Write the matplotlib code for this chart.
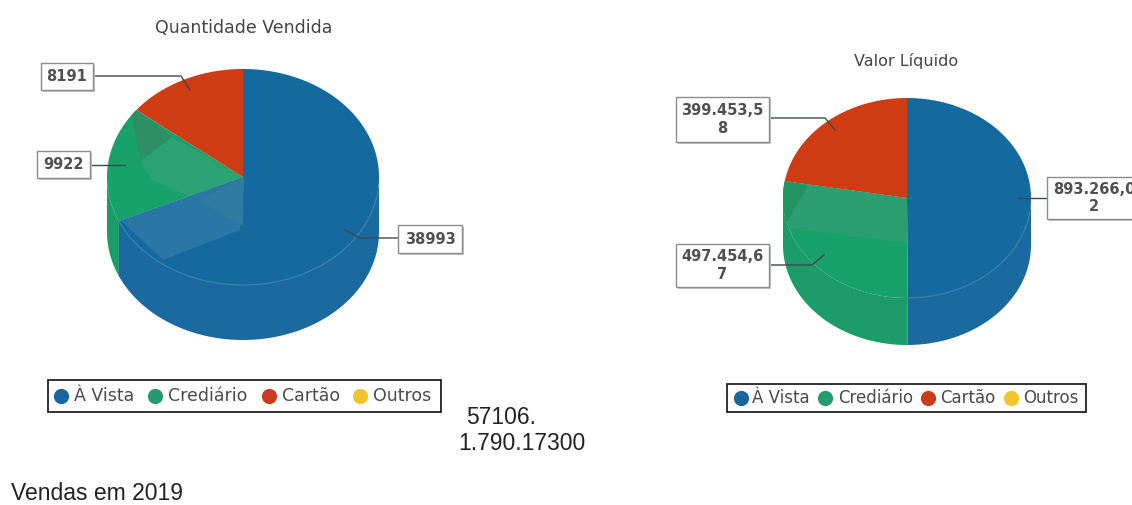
"""Two 3D-look pies of 2019 sales, drawn by hand on a pixel-sized axes."""
import numpy as np
import matplotlib
matplotlib.use("Agg")
import matplotlib.pyplot as plt
from matplotlib.patches import Polygon, Rectangle

categories = ["À Vista", "Crediário", "Cartão", "Outros"]
colors = ["#14699f", "#18a169", "#cf3b12", "#f0c52e"]
wall_colors = ["#1a6a9f", "#1c9c68", "#bb3510", "#d8b028"]
legend_colors = ["#1a669c", "#259a6d", "#c93c1c", "#f0c52e"]

qtd_values = [38993, 9922, 8191, 0]
qtd_labels = ["38993", "9922", "8191"]
val_values = [893266.02, 497454.67, 399453.58, 0]
val_labels = ["893.266,0\n2", "497.454,6\n7", "399.453,5\n8"]

W, H = 1132, 505
fig = plt.figure(figsize=(W / 100, H / 100), dpi=100)
ax = fig.add_axes([0, 0, 1, 1])
ax.set_xlim(0, W)
ax.set_ylim(H, 0)
ax.axis("off")


def rim(cx, cy, rx, ry, a0, a1, dy=0):
    # angles in degrees, clockwise from 12 o'clock
    t = np.radians(np.linspace(a0, a1, 200))
    return np.column_stack([cx + rx * np.sin(t), cy - ry * np.cos(t) + dy])


def draw_pie(values, cx, cy, rx, ry, depth):
    shares = np.array(values, dtype=float) / sum(values)
    edges = np.concatenate([[0], np.cumsum(shares) * 360])
    # side wall first, only the front half can be seen
    for i in range(len(values)):
        a0, a1 = max(edges[i], 90), min(edges[i + 1], 270)
        if a1 <= a0:
            continue
        top = rim(cx, cy, rx, ry, a0, a1)
        bot = rim(cx, cy, rx, ry, a0, a1, depth)[::-1]
        ax.add_patch(Polygon(np.vstack([top, bot]), fc=wall_colors[i], ec="none", zorder=2))
    faces = []
    for i in range(len(values)):
        if values[i] == 0:
            faces.append(None)
            continue
        pts = np.vstack([[cx, cy], rim(cx, cy, rx, ry, edges[i], edges[i + 1])])
        face = Polygon(pts, fc=colors[i], ec="none", zorder=3)
        ax.add_patch(face)
        faces.append(face)
    # thin light line where the blue top meets its wall
    front = rim(cx, cy, rx, ry, 100, edges[1])
    ax.plot(front[:, 0], front[:, 1], color="#3a80a9", lw=0.9, zorder=4)
    return faces


def sheen(points, face, color):
    p = Polygon(points, fc=color, ec="none", zorder=4)
    ax.add_patch(p)
    p.set_clip_path(face)


def label_box(x0, y0, x1, y1, text, leader, fs=10.5):
    ax.plot(*zip(*leader), color="#3c4a50", lw=1.0, zorder=5)
    ax.add_patch(Rectangle((x0 + 2, y0 + 2), x1 - x0, y1 - y0, fc="#c4c4c4", ec="none", zorder=6))
    ax.add_patch(Rectangle((x0, y0), x1 - x0, y1 - y0, fc="white", ec="#8c8c8c", lw=1.0, zorder=7))
    ax.text((x0 + x1) / 2, (y0 + y1) / 2, text, ha="center", va="center", fontsize=fs,
            fontweight="bold", color="#505050", family="DejaVu Sans", linespacing=1.2,
            zorder=8)


def legend_box(x0, y0, x1, y1, marks, texts, fs):
    ax.add_patch(Rectangle((x0, y0), x1 - x0, y1 - y0, fc="white", ec="#222222", lw=1.3, zorder=2))
    ym = (y0 + y1) / 2
    for xm, xt, cat, c in zip(marks, texts, categories, legend_colors):
        ax.scatter([xm], [ym], s=120, color=c, zorder=3, lw=0)
        ax.text(xt, ym, cat, ha="left", va="center", fontsize=fs, color="#4a4a4a", zorder=3)


# left pie
f = draw_pie(qtd_values, 243, 177, 136, 108, 55)
sheen([(120, 220), (163, 260), (240, 230), (244, 177)], f[0], "#2a76a4")
sheen([(197, 200), (243, 226), (244, 177)], f[0], "#2f7aa0")
sheen([(140, 162), (172, 137), (244, 177), (190, 197), (152, 180)], f[1], "#2ba272")
sheen([(130, 105), (172, 137), (140, 160)], f[1], "#2e9062")
label_box(41, 63, 93, 90, qtd_labels[2], [(93, 76), (181, 76), (190, 90)])
label_box(37, 151, 90, 178, qtd_labels[1], [(90, 165), (125, 165)])
label_box(398, 225, 462, 253, qtd_labels[0], [(398, 238), (360, 238), (345, 230)])
ax.text(244, 28, "Quantidade Vendida", ha="center", va="center", fontsize=12.5, color="#444444")
legend_box(48, 380, 441, 412, [61, 155, 269, 360], [74, 168, 282, 373], 12.5)

# right pie
f = draw_pie(val_values, 907, 198, 124, 100, 47)
sheen([(775, 226), (907, 243), (907, 198), (784, 181), (775, 181)], f[1], "#2b9e72")
sheen([(782, 180), (808, 186), (787, 222), (782, 222)], f[1], "#23935f")
label_box(676, 97, 769, 142, val_labels[2], [(769, 118), (825, 118), (835, 130)])
label_box(676, 244, 769, 287, val_labels[1], [(769, 265), (812, 265), (824, 255)])
label_box(1047, 177, 1141, 219, val_labels[0], [(1047, 198), (1018, 198)])
ax.text(906, 61, "Valor Líquido", ha="center", va="center", fontsize=11.5, color="#444444")
legend_box(727, 384, 1086, 412, [741, 825, 928, 1011], [752, 838, 940, 1023], 12)

ax.text(466, 418, "57106.", ha="left", va="center", fontsize=16.5, family="Liberation Sans", color="#222222")
ax.text(458, 443, "1.790.17300", ha="left", va="center", fontsize=16.5, family="Liberation Sans", color="#222222")
ax.text(11, 494, "Vendas em 2019", ha="left", va="center", fontsize=16.5, family="Liberation Sans", color="#222222")

fig.savefig("out.png", dpi=100)
